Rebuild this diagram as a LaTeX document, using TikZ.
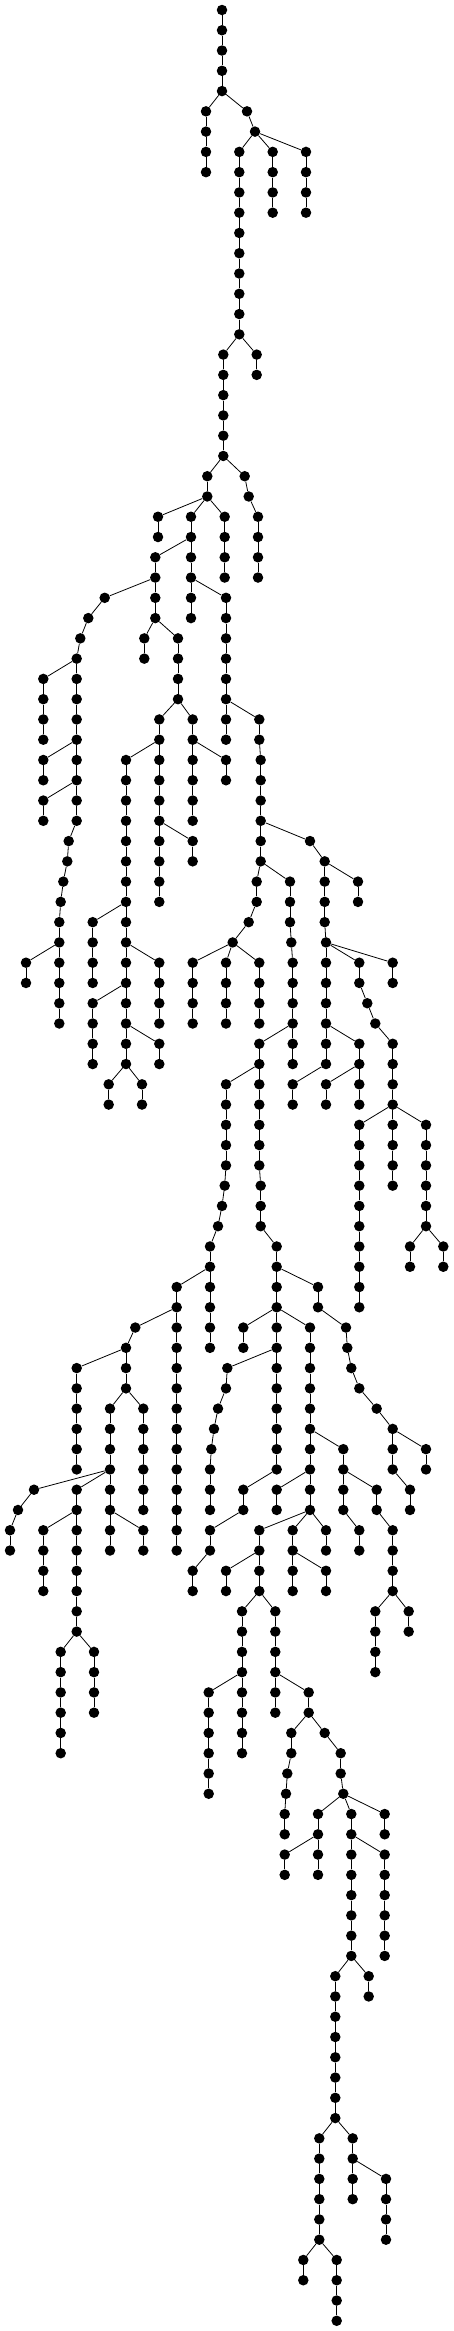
\documentclass[tikz,border=0pt]{standalone}
\begin{document}
\tikzset{dot/.style={circle,fill=black,draw=none,inner sep=0pt,minimum size=10.5pt},
  edge/.style={black,line width=0.8pt}}
\newcommand\vchain[4]{%
  \foreach \l in {#3,...,#4}{%
    \node[dot] (#1-\l) at (#2,\l) {};
    \ifnum\l>#3\relax
      \pgfmathtruncatemacro\myprevl{\l-1}%
      \draw[edge] (#1-\myprevl) -- (#1-\l);
    \fi}}
\newcommand\pchain[5]{\vchain{#1}{#2}{#3}{#4}\draw[edge] (#5) -- (#1-#3);}
\newcommand\nd[4]{\node[dot] (#1) at (#2,#3) {}; \draw[edge] (#4) -- (#1);}
\begin{tikzpicture}[x=1pt,y=-20.27pt]
\useasboundingbox[fill=white] (0,-0.4933) rectangle (454,114.505);
\vchain{c1}{222}{0}{4}
\pchain{c2}{206}{5}{8}{c1-4}
\nd{n1}{247}{5}{c1-4}
\nd{n2}{255}{6}{n1}
\pchain{c3}{239.3}{7}{16}{n2}
\pchain{c4}{272.7}{7}{10}{n2}
\pchain{c5}{306}{7}{10}{n2}
\pchain{c6}{256.7}{17}{18}{c3-16}
\pchain{c7}{223.3}{17}{22}{c3-16}
\pchain{c8}{207.3}{23}{24}{c7-22}
\nd{n3}{244.7}{23}{c7-22}
\nd{n4}{248.7}{24}{n3}
\pchain{c9}{258}{25}{28}{n4}
\pchain{c10}{158}{25}{26}{c8-24}
\pchain{c11}{191}{25}{26}{c8-24}
\pchain{c12}{224.7}{25}{28}{c8-24}
\pchain{c13}{155.3}{27}{28}{c11-26}
\pchain{c14}{191}{27}{28}{c11-26}
\nd{n5}{104.7}{29}{c13-28}
\nd{n6}{88.3}{30}{n5}
\nd{n7}{80.3}{31}{n6}
\pchain{c15}{76.7}{32}{40}{n7}
\pchain{c16}{43.3}{33}{36}{c15-32}
\pchain{c17}{43.3}{37}{38}{c15-36}
\pchain{c18}{43.3}{39}{40}{c15-38}
\nd{n8}{68.7}{41}{c15-40}
\nd{n9}{67.3}{42}{n8}
\nd{n10}{63.3}{43}{n9}
\nd{n11}{60.7}{44}{n10}
\pchain{c19}{59.3}{45}{50}{n11}
\pchain{c20}{26}{47}{48}{c19-46}
\pchain{c21}{155.3}{29}{30}{c13-28}
\pchain{c22}{144.3}{31}{32}{c21-30}
\pchain{c23}{178}{31}{34}{c21-30}
\pchain{c24}{191}{29}{30}{c14-28}
\pchain{c25}{226}{29}{34}{c14-28}
\pchain{c26}{159.3}{35}{36}{c23-34}
\pchain{c27}{192.7}{35}{36}{c23-34}
\pchain{c28}{126}{37}{52}{c26-36}
\pchain{c29}{159.3}{37}{44}{c26-36}
\pchain{c30}{192.7}{41}{42}{c29-40}
\pchain{c31}{192.7}{37}{40}{c27-36}
\pchain{c32}{226}{37}{38}{c27-36}
\pchain{c33}{92.7}{45}{48}{c28-44}
\pchain{c34}{159.3}{47}{50}{c28-46}
\pchain{c35}{92.7}{49}{52}{c28-48}
\pchain{c36}{159.3}{51}{52}{c28-50}
\pchain{c37}{108.7}{53}{54}{c28-52}
\pchain{c38}{142}{53}{54}{c28-52}
\pchain{c39}{226}{35}{36}{c25-34}
\pchain{c40}{259.3}{35}{36}{c25-34}
\pchain{c41}{260.7}{37}{42}{c40-36}
\nd{n14}{310}{41}{c41-40}
\pchain{c42}{324.7}{42}{45}{n14}
\pchain{c43}{326}{46}{52}{c42-45}
\pchain{c44}{358}{43}{44}{c42-42}
\pchain{c45}{256.7}{43}{44}{c41-42}
\nd{n15}{248.7}{45}{c45-44}
\nd{n16}{232.7}{46}{n15}
\pchain{c46}{192.7}{47}{50}{n16}
\pchain{c47}{226}{47}{50}{n16}
\pchain{c48}{259.3}{47}{50}{n16}
\pchain{c49}{290}{43}{45}{c41-42}
\nd{n17}{291.3}{46}{c49-45}
\pchain{c50}{292.7}{47}{52}{n17}
\pchain{c51}{259.3}{51}{57}{c50-50}
\pchain{c52}{260.7}{58}{60}{c51-57}
\pchain{c53}{226}{53}{57}{c51-52}
\nd{n18}{224.7}{58}{c53-57}
\nd{n19}{222}{59}{n18}
\nd{n20}{218}{60}{n19}
\pchain{c54}{210}{61}{66}{n20}
\pchain{c55}{176.7}{63}{76}{c54-62}
\nd{n21}{135.3}{65}{c55-64}
\pchain{c56}{126}{66}{68}{n21}
\pchain{c57}{76.7}{67}{72}{c56-66}
\pchain{c58}{110}{69}{76}{c56-68}
\pchain{c59}{143.3}{69}{74}{c56-68}
\nd{n22}{34}{73}{c58-72}
\nd{n23}{18}{74}{n22}
\pchain{c60}{10}{75}{76}{n23}
\pchain{c61}{76.7}{73}{80}{c58-72}
\pchain{c62}{43.3}{75}{78}{c61-74}
\pchain{c63}{143.3}{75}{76}{c58-74}
\pchain{c64}{60.7}{81}{86}{c61-80}
\pchain{c65}{94}{81}{84}{c61-80}
\pchain{c66}{276.7}{61}{72}{c52-60}
\pchain{c67}{318}{63}{64}{c66-62}
\nd{n25}{346}{65}{c67-64}
\nd{n26}{347.3}{66}{n25}
\nd{n27}{351.3}{67}{n26}
\nd{n28}{359.3}{68}{n27}
\nd{n29}{376.7}{69}{n28}
\pchain{c68}{392.7}{70}{72}{n29}
\pchain{c69}{426}{71}{72}{c68-70}
\pchain{c70}{410}{73}{74}{c68-72}
\pchain{c71}{243.3}{65}{66}{c66-64}
\pchain{c72}{310}{65}{74}{c66-64}
\nd{n30}{227.3}{67}{c66-66}
\nd{n31}{226}{68}{n30}
\nd{n32}{218}{69}{n31}
\nd{n33}{214}{70}{n32}
\nd{n34}{211.3}{71}{n33}
\pchain{c73}{210}{72}{74}{n34}
\pchain{c74}{243.3}{73}{74}{c66-72}
\pchain{c75}{210}{75}{76}{c74-74}
\pchain{c76}{192.7}{77}{78}{c75-76}
\pchain{c77}{343.3}{71}{74}{c72-70}
\pchain{c78}{359.3}{75}{76}{c77-74}
\pchain{c79}{376.7}{73}{74}{c77-72}
\pchain{c80}{392.7}{75}{78}{c79-74}
\pchain{c81}{375.3}{79}{82}{c80-78}
\pchain{c82}{408.7}{79}{80}{c80-78}
\pchain{c83}{276.7}{73}{74}{c72-72}
\pchain{c84}{259.3}{75}{78}{c72-74}
\pchain{c85}{226}{77}{78}{c84-76}
\pchain{c86}{292.7}{75}{78}{c72-74}
\pchain{c87}{326}{77}{78}{c86-76}
\pchain{c88}{326}{75}{76}{c72-74}
\pchain{c89}{242}{79}{86}{c84-78}
\pchain{c90}{208.7}{83}{88}{c89-82}
\pchain{c91}{275.3}{79}{84}{c84-78}
\pchain{c92}{308.7}{83}{84}{c91-82}
\pchain{c93}{291.3}{85}{86}{c92-84}
\nd{n35}{287.3}{87}{c93-86}
\nd{n36}{286}{88}{n35}
\pchain{c94}{284.7}{89}{90}{n36}
\nd{n37}{324.7}{85}{c92-84}
\pchain{c95}{340.7}{86}{87}{n37}
\nd{n38}{343.3}{88}{c95-87}
\pchain{c96}{318}{89}{92}{n38}
\pchain{c97}{284.7}{91}{92}{c96-90}
\pchain{c98}{351.3}{89}{96}{n38}
\pchain{c99}{384.7}{89}{90}{n38}
\pchain{c100}{384.7}{91}{96}{c98-90}
\pchain{c101}{335.3}{97}{104}{c98-96}
\pchain{c102}{368.7}{97}{98}{c98-96}
\pchain{c103}{319.3}{105}{110}{c101-104}
\pchain{c104}{352.7}{105}{108}{c101-104}
\pchain{c105}{386}{107}{110}{c104-106}
\pchain{c106}{303.3}{111}{112}{c103-110}
\pchain{c107}{336.7}{111}{114}{c103-110}
\pchain{c108}{359.3}{47}{48}{c43-46}
\nd{n39}{367.3}{49}{c108-48}
\nd{n40}{375.3}{50}{n39}
\pchain{c109}{392.7}{51}{54}{n40}
\pchain{c110}{392.7}{47}{48}{c43-46}
\pchain{c111}{359.3}{51}{54}{c43-50}
\pchain{c112}{326}{53}{54}{c111-52}
\pchain{c113}{292.7}{53}{54}{c43-52}
\pchain{c114}{359.3}{55}{64}{c109-54}
\pchain{c115}{392.7}{55}{58}{c109-54}
\pchain{c116}{426}{55}{60}{c109-54}
\pchain{c117}{410}{61}{62}{c116-60}
\pchain{c118}{443.3}{61}{62}{c116-60}
\end{tikzpicture}
\end{document}
